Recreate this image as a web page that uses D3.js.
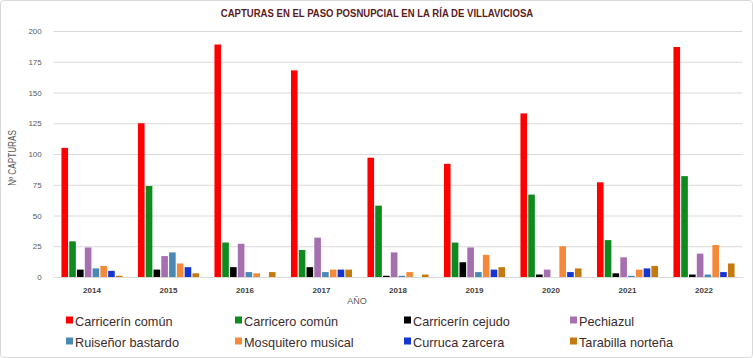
<!DOCTYPE html>
<html><head><meta charset="utf-8">
<script src="https://cdn.jsdelivr.net/npm/d3@7"></script>
<style>body{margin:0;background:#fff;}svg{display:block;}</style>
</head><body><svg id="c" width="753" height="358"></svg>
<script>
const years = ["2014","2015","2016","2017","2018","2019","2020","2021","2022"];
const species = ["Carricerín común","Carricero común","Carricerín cejudo","Pechiazul","Ruiseñor bastardo","Mosquitero musical","Curruca zarcera","Tarabilla norteña"];
const colors = ["#ff0000","#0f8a1e","#000000","#a66fb0","#4a89b3","#f5893a","#1434d4","#c47a0c"];
const carricerinComun   = [105,125,189,168,97,92,133,77,187];
const carriceroComun    = [29,74,28,22,58,28,67,30,82];
const carricerinCejudo  = [6,6,8,8,1,12,2,3,2];
const pechiazul         = [24,17,27,32,20,24,6,16,19];
const ruisenorBastardo  = [7,20,4,4,1,4,0,1,2];
const mosquiteroMusical = [9,11,3,6,4,18,25,6,26];
const currucaZarcera    = [5,8,0,6,0,6,4,7,4];
const tarabillaNortena  = [1,3,4,6,2,8,7,9,11];
const yTicks = [0,25,50,75,100,125,150,175,200];
const series = [carricerinComun,carriceroComun,carricerinCejudo,pechiazul,ruisenorBastardo,mosquiteroMusical,currucaZarcera,tarabillaNortena];

const svg = d3.select("#c");
svg.append("rect").attr("x",0.5).attr("y",0.5).attr("width",752).attr("height",357).attr("rx",3)
  .attr("fill","#fff").attr("stroke","#d9d9d9");

const L=53.75, R=742.25, T=31, B=277;
const x0 = d3.scaleBand().domain(years).range([L,R]).paddingInner(0).paddingOuter(0);
const x1 = d3.scaleBand().domain(d3.range(8)).range([0,x0.bandwidth()]).paddingInner(0.15).paddingOuter(0.99);
const y = d3.scaleLinear().domain([0,200]).range([B,T]);

svg.append("g").attr("transform","translate(377,17) scale(0.87,1)")
  .append("text").attr("text-anchor","middle")
  .attr("font-family","Liberation Sans, Arial, sans-serif")
  .attr("font-weight","bold").attr("font-size",11).attr("fill","#5c1a1a")
  .text("CAPTURAS EN EL PASO POSNUPCIAL EN LA RÍA DE VILLAVICIOSA");

const ga = svg.append("g").attr("transform",`translate(${L},0)`)
  .call(d3.axisLeft(y).tickValues(yTicks).tickSize(-(R-L)).tickPadding(12));
ga.select(".domain").remove();
ga.selectAll(".tick line").attr("stroke","#d9d9d9");
ga.selectAll(".tick text").attr("fill","#595959").attr("font-size",8)
  .attr("font-family","Liberation Sans, Arial, sans-serif");

const gx = svg.append("g").attr("transform",`translate(0,${B})`)
  .call(d3.axisBottom(x0).tickSize(0).tickPadding(10));
gx.select(".domain").attr("stroke","#d9d9d9");
gx.selectAll(".tick text").attr("fill","#404040").attr("font-size",8).attr("font-weight","bold")
  .attr("font-family","Liberation Sans, Arial, sans-serif");

const groups = svg.append("g").selectAll("g").data(years).join("g")
  .attr("transform",d=>`translate(${x0(d)},0)`);
groups.selectAll("rect").data((d,i)=>series.map((s,k)=>({k,v:s[i]}))).join("rect")
  .attr("x",d=>x1(d.k)).attr("width",x1.bandwidth())
  .attr("y",d=>y(d.v)).attr("height",d=>B-y(d.v)).attr("fill",d=>colors[d.k]);

svg.append("g").attr("transform","translate(16,158) rotate(-90) scale(0.82,1)")
  .append("text").attr("text-anchor","middle")
  .attr("font-family","Liberation Sans, Arial, sans-serif").attr("font-size",10).attr("fill","#595959")
  .text("Nº CAPTURAS");
svg.append("text").attr("x",357).attr("y",304).attr("text-anchor","middle")
  .attr("font-family","Liberation Sans, Arial, sans-serif").attr("font-size",9).attr("fill","#595959")
  .text("AÑO");

const colX=[66,235,404,570], rowY=[321,342];
const lg = svg.append("g").selectAll("g").data(species).join("g")
  .attr("transform",(d,i)=>`translate(${colX[i%4]},${rowY[Math.floor(i/4)]})`);
lg.append("rect").attr("x",0).attr("y",-4.5).attr("width",7).attr("height",7).attr("fill",(d,i)=>colors[i]);
lg.append("g").attr("transform","translate(9,4.8) scale(0.98,1)")
  .append("text").attr("font-size",13)
  .attr("font-family","Liberation Sans, Arial, sans-serif")
  .attr("fill","#3d2b2b").text(d=>d);
</script></body></html>
